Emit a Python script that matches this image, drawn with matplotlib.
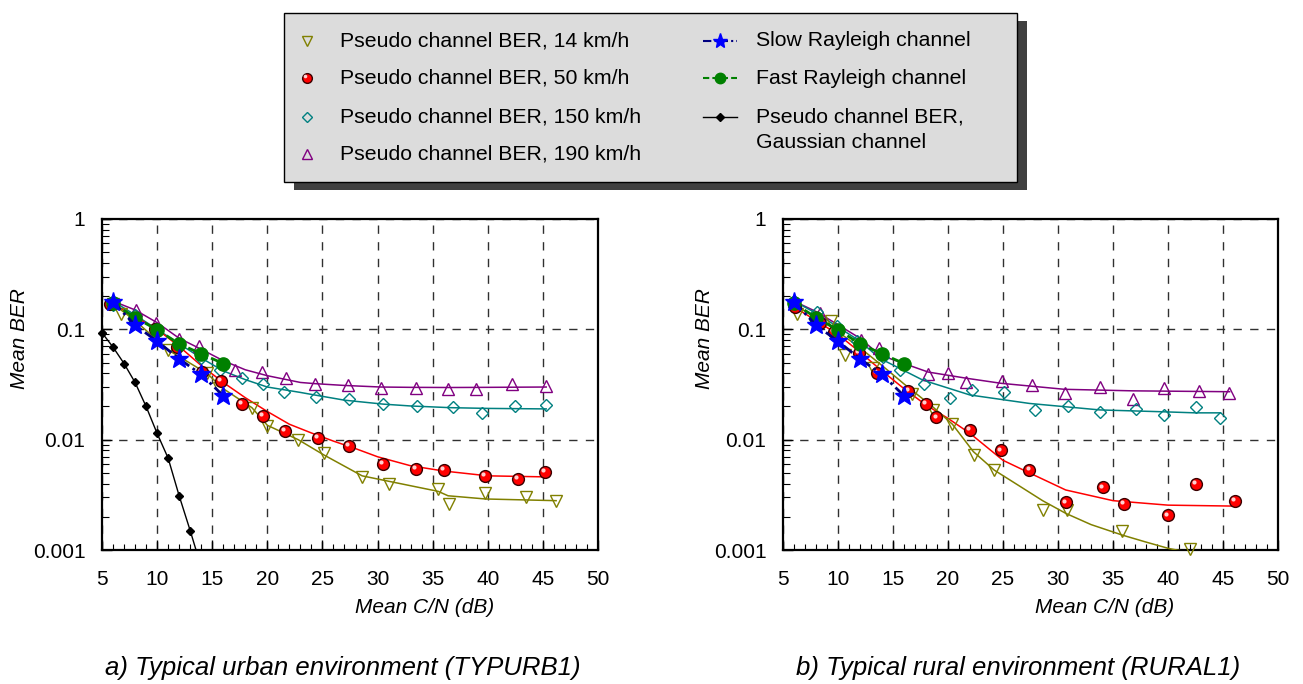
import matplotlib
matplotlib.use("Agg")
import matplotlib.pyplot as plt
from matplotlib.patches import Rectangle
from matplotlib.transforms import offset_copy
from matplotlib.ticker import FixedLocator, NullFormatter, LogLocator

plt.rcParams['font.family'] = ['Liberation Sans', 'DejaVu Sans']

# ---------------- data: common Rayleigh references ----------------
slow_x = [6, 8, 10, 12, 14, 16]
slow_y = [0.178, 0.109, 0.078, 0.054, 0.039, 0.025]
fast_x = [6, 8, 10, 12, 14, 16]
fast_y = [0.172, 0.128, 0.099, 0.074, 0.060, 0.049]

# Gaussian (urban panel only)
gauss_x = [5, 6, 7, 8, 9, 10, 11, 12, 13, 14.2]
gauss_y = [0.093, 0.069, 0.049, 0.033, 0.020, 0.0114, 0.0068, 0.0031, 0.0015, 0.0006]

# ---------------- urban (TYPURB1) ----------------
u14_x = [6, 6.7, 11.0, 14.5, 15.6, 18.6, 20.0, 22.8, 25.1, 28.6, 31.0, 35.5, 36.5, 39.75, 43.5, 46.2]
u14_y = [0.17, 0.137, 0.065, 0.040, 0.0296, 0.0195, 0.0133, 0.0100, 0.0075, 0.0046, 0.0040, 0.0036, 0.0026, 0.0033, 0.0030, 0.0028]
u14_fx = [6, 8, 11, 14.5, 16, 18.6, 20, 22.8, 25.1, 28.6, 31, 35.5, 36.4, 39.8, 46.2]
u14_fy = [0.17, 0.12, 0.065, 0.040, 0.029, 0.0195, 0.0135, 0.010, 0.0073, 0.0047, 0.0042, 0.0034, 0.0031, 0.0029, 0.0028]

u50_x = [5.7, 9.8, 11.8, 14.05, 15.8, 17.7, 19.6, 21.6, 24.6, 27.4, 30.5, 33.5, 36.0, 39.75, 42.7, 45.2]
u50_y = [0.168, 0.100, 0.069, 0.041, 0.034, 0.021, 0.0163, 0.012, 0.0103, 0.0088, 0.0060, 0.0054, 0.0053, 0.0047, 0.0044, 0.0051]
u50_fx = [6, 8, 10, 12, 14, 16, 18, 20, 22, 24, 26, 28, 30, 33, 36, 40, 45.2]
u50_fy = [0.17, 0.13, 0.10, 0.070, 0.047, 0.033, 0.024, 0.018, 0.0138, 0.0115, 0.0097, 0.0083, 0.0070, 0.0058, 0.0052, 0.0047, 0.0046]

u150_x = [6, 8, 12, 14, 15.7, 17.7, 19.6, 21.5, 24.4, 27.4, 30.5, 33.55, 36.85, 39.45, 42.5, 45.26]
u150_y = [0.165, 0.135, 0.072, 0.055, 0.043, 0.036, 0.032, 0.027, 0.0245, 0.0233, 0.021, 0.0203, 0.0199, 0.0173, 0.0204, 0.0207]
u150_fx = [6, 8, 10, 12, 14, 16, 18, 20, 23, 24.3, 27, 30.5, 33, 36.6, 40, 45.3]
u150_fy = [0.18, 0.135, 0.10, 0.074, 0.055, 0.042, 0.035, 0.030, 0.0268, 0.0254, 0.0228, 0.021, 0.0202, 0.0195, 0.0192, 0.019]

u190_x = [6, 8.05, 9.87, 12.0, 13.8, 17.1, 19.5, 21.7, 24.3, 27.35, 30.3, 33.5, 36.4, 38.9, 42.2, 45.3]
u190_y = [0.18, 0.150, 0.115, 0.081, 0.070, 0.043, 0.041, 0.036, 0.032, 0.031, 0.0296, 0.0297, 0.029, 0.0288, 0.0319, 0.0306]
u190_fx = [6, 8, 10, 12, 14, 16, 18, 20, 23, 24.3, 27, 30.3, 33, 36.6, 40, 45.3]
u190_fy = [0.18, 0.15, 0.115, 0.083, 0.066, 0.052, 0.043, 0.038, 0.033, 0.0322, 0.031, 0.030, 0.0298, 0.0297, 0.0298, 0.030]

# ---------------- rural (RURAL1) ----------------
r14_x = [6.27, 9.4, 10.66, 13.2, 16.7, 18.6, 20.4, 22.4, 24.2, 28.6, 30.8, 35.8, 42.0]
r14_y = [0.137, 0.119, 0.058, 0.045, 0.026, 0.0185, 0.0138, 0.0072, 0.0053, 0.0023, 0.0023, 0.0015, 0.00103]
r14_fx = [6, 8, 10, 12, 14, 16, 18.6, 20.4, 22.3, 24.2, 26.5, 28.6, 30.7, 33, 35.9, 38, 40.1, 42]
r14_fy = [0.165, 0.13, 0.095, 0.068, 0.047, 0.032, 0.0199, 0.0138, 0.0078, 0.0053, 0.0038, 0.0028, 0.00215, 0.0017, 0.00136, 0.00118, 0.00103, 0.00095]

r50_x = [6.06, 8.4, 9.6, 11.9, 13.56, 16.4, 18.0, 18.95, 21.97, 24.8, 27.4, 30.7, 34.07, 35.97, 39.96, 42.5, 46.1]
r50_y = [0.161, 0.115, 0.095, 0.061, 0.040, 0.0275, 0.021, 0.0159, 0.0122, 0.0080, 0.0053, 0.0027, 0.0037, 0.0026, 0.00206, 0.0040, 0.0028]
r50_fx = [6, 8, 10, 12, 14, 16, 18, 20, 22, 25, 27.4, 30.7, 35, 40, 46]
r50_fy = [0.16, 0.12, 0.09, 0.062, 0.042, 0.029, 0.0206, 0.0156, 0.0114, 0.0065, 0.0050, 0.0035, 0.0028, 0.00255, 0.0025]

r150_x = [6, 8.05, 9.87, 11.7, 14.1, 15.6, 17.8, 20.2, 22.2, 25.1, 27.9, 30.9, 33.85, 37.1, 39.66, 42.5, 44.75]
r150_y = [0.18, 0.144, 0.107, 0.079, 0.056, 0.043, 0.032, 0.0237, 0.028, 0.027, 0.0185, 0.0202, 0.018, 0.019, 0.0167, 0.0199, 0.0156]
r150_fx = [6, 8, 10, 12, 13.8, 17.7, 22, 27.4, 33.8, 39.5, 42.5, 44.75]
r150_fy = [0.18, 0.14, 0.105, 0.078, 0.0546, 0.0347, 0.0254, 0.0213, 0.0186, 0.0179, 0.0175, 0.0175]

r190_x = [6, 8.4, 12.05, 13.74, 18.2, 20.0, 21.6, 24.9, 27.65, 30.6, 33.8, 36.85, 39.66, 42.85, 45.56]
r190_y = [0.18, 0.140, 0.080, 0.068, 0.039, 0.040, 0.033, 0.034, 0.031, 0.0263, 0.0298, 0.0232, 0.0295, 0.0276, 0.0266]
r190_fx = [6, 8, 10, 12, 13.8, 18.2, 21.7, 24.85, 30.6, 36.8, 45.6]
r190_fy = [0.18, 0.145, 0.11, 0.083, 0.0585, 0.041, 0.036, 0.0324, 0.0286, 0.0277, 0.0272]

x_ticks = [5, 10, 15, 20, 25, 30, 35, 40, 45, 50]
y_ticks = [0.001, 0.01, 0.1, 1]
y_ticklabels = ['0.001', '0.01', '0.1', '1']

OLIVE = '#808000'
RED = '#ff0000'
TEAL = '#008080'
PURPLE = '#800080'
BLUE = '#0000ff'
NAVY = '#000080'
GREEN = '#008000'

FS = 15

fig = plt.figure(figsize=(13.03, 6.84), dpi=100)
fig.patch.set_facecolor('white')

ax_u = fig.add_axes([102 / 1303, 134 / 684, 496 / 1303, 331 / 684])
ax_r = fig.add_axes([783 / 1303, 134 / 684, 495 / 1303, 331 / 684])


def red_balls(ax, xs, ys):
    ax.plot(xs, ys, linestyle='none', marker='o', ms=8.5, mfc=RED, mec='#3a0000', mew=1.0, zorder=6, clip_on=False)
    tr = offset_copy(ax.transData, fig=fig, x=-1.3, y=1.3, units='points')
    ax.plot(xs, ys, linestyle='none', marker='o', ms=3.0, mfc='#ffd0d0', mec='none', transform=tr, zorder=7, clip_on=False)


def panel(ax, d, gauss):
    (x14, y14, fx14, fy14, x50, y50, fx50, fy50, x150, y150, fx150, fy150, x190, y190, fx190, fy190) = d
    # fitted curves
    ax.plot(fx190, fy190, color=PURPLE, lw=1.1, zorder=3)
    ax.plot(fx150, fy150, color=TEAL, lw=1.1, zorder=3)
    ax.plot(fx50, fy50, color=RED, lw=1.1, zorder=3)
    ax.plot(fx14, fy14, color=OLIVE, lw=1.1, zorder=3)
    # measured points
    ax.plot(x190, y190, linestyle='none', marker='^', ms=9, mfc='none', mec=PURPLE, mew=1.0, zorder=5)
    ax.plot(x150, y150, linestyle='none', marker='D', ms=6.3, mfc='none', mec=TEAL, mew=1.0, zorder=5)
    ax.plot(x14, y14, linestyle='none', marker='v', ms=9, mfc='none', mec=OLIVE, mew=1.0, zorder=5, clip_on=False)
    red_balls(ax, x50, y50)
    # Rayleigh references
    ax.plot(fast_x, fast_y, color=GREEN, lw=2, linestyle=(0, (3, 1.5)), marker='o', ms=9.5, mfc=GREEN, mec=GREEN, zorder=8)
    ax.plot(slow_x, slow_y, color=NAVY, lw=2, linestyle=(0, (4, 1.5, 1, 1.5)), marker='*', ms=14, mfc=BLUE, mec=BLUE, zorder=9)
    if gauss:
        ax.plot(gauss_x, gauss_y, color='black', lw=1.0, marker='D', ms=4.5, mfc='black', mec='black', zorder=4, clip_on=True)
        ax.plot(gauss_x[:1], gauss_y[:1], color='black', marker='D', ms=4.5, linestyle='none', zorder=4, clip_on=False)

    ax.set_yscale('log')
    ax.set_xlim(5, 50)
    ax.set_ylim(0.001, 1)
    ax.xaxis.set_major_locator(FixedLocator(x_ticks))
    ax.xaxis.set_minor_locator(FixedLocator(list(range(5, 51))))
    ax.set_xticklabels([str(v) for v in x_ticks])
    ax.yaxis.set_major_locator(FixedLocator(y_ticks))
    ax.set_yticklabels(y_ticklabels)
    ax.yaxis.set_minor_locator(LogLocator(base=10, subs=[2, 3, 4, 5, 6, 7, 8, 9]))
    ax.yaxis.set_minor_formatter(NullFormatter())
    ax.tick_params(which='both', direction='in', top=False, right=False, labelsize=FS, colors='black')
    ax.tick_params(axis='x', which='major', length=7, width=1, pad=14.5)
    ax.tick_params(axis='x', which='minor', length=4, width=0.8)
    ax.tick_params(axis='y', which='major', length=7, width=1, pad=12)
    ax.tick_params(axis='y', which='minor', length=5, width=0.8)
    for s in ax.spines.values():
        s.set_linewidth(1.6)
        s.set_color('black')
    ax.grid(True, which='major', color='#303030', linestyle=(0, (6, 6)), linewidth=1.0)
    ax.set_axisbelow(True)
    ax.set_xlabel('Mean C/N (dB)', fontsize=FS, style='italic')
    ax.xaxis.set_label_coords(0.65, -0.145)
    ax.set_ylabel('Mean BER', fontsize=FS, style='italic')


panel(ax_u, (u14_x, u14_y, u14_fx, u14_fy, u50_x, u50_y, u50_fx, u50_fy,
             u150_x, u150_y, u150_fx, u150_fy, u190_x, u190_y, u190_fx, u190_fy), True)
panel(ax_r, (r14_x, r14_y, r14_fx, r14_fy, r50_x, r50_y, r50_fx, r50_fy,
             r150_x, r150_y, r150_fx, r150_fy, r190_x, r190_y, r190_fx, r190_fy), False)
ax_u.yaxis.set_label_coords(-0.147, 0.64)
ax_r.yaxis.set_label_coords(-0.14, 0.64)

fig.text(105 / 1303, 1 - 668 / 684, 'a) Typical urban environment (TYPURB1)', fontsize=18.5, style='italic',
         ha='left', va='center')
fig.text(796 / 1303, 1 - 668 / 684, 'b) Typical rural environment (RURAL1)', fontsize=18.5, style='italic',
         ha='left', va='center')

# ---------------- legend (drawn in pixel coordinates) ----------------
lax = fig.add_axes([0, 0, 1, 1], zorder=10)
lax.set_xlim(0, 1303)
lax.set_ylim(684, 0)
lax.axis('off')
lax.add_patch(Rectangle((294, 21), 733, 169, facecolor='#404040', edgecolor='none'))
lax.add_patch(Rectangle((284, 13), 733, 169, facecolor='#dcdcdc', edgecolor='black', linewidth=1.0))

LFS = 15.3
rows = [41, 78, 117, 154]
col1 = [('v', OLIVE, 'Pseudo channel BER, 14 km/h'),
        ('o', RED, 'Pseudo channel BER, 50 km/h'),
        ('D', TEAL, 'Pseudo channel BER, 150 km/h'),
        ('^', PURPLE, 'Pseudo channel BER, 190 km/h')]
for (m, c, lab), yy in zip(col1, rows):
    if m == 'o':
        lax.plot([307], [yy], marker='o', ms=7, mfc=RED, mec='#3a0000', mew=1.0, linestyle='none')
        tr = offset_copy(lax.transData, fig=fig, x=-1.1, y=1.1, units='points')
        lax.plot([307], [yy], marker='o', ms=2.6, mfc='#ffd0d0', mec='none', linestyle='none', transform=tr)
    else:
        lax.plot([307], [yy], marker=m, ms=7 if m != 'D' else 5, mfc='none', mec=c, mew=1.0, linestyle='none')
    lax.text(340, yy, lab, fontsize=LFS, ha='left', va='center')

lax.plot([703, 737], [rows[0], rows[0]], color=NAVY, lw=1.5, linestyle=(0, (4, 1.5, 1, 1.5)))
lax.plot([720], [rows[0]], marker='*', ms=11, mfc=BLUE, mec=BLUE, linestyle='none')
lax.text(756, rows[0], 'Slow Rayleigh channel', fontsize=LFS, ha='left', va='center')
lax.plot([703, 737], [rows[1], rows[1]], color=GREEN, lw=1.5, linestyle=(0, (3, 1.5)))
lax.plot([720], [rows[1]], marker='o', ms=7.5, mfc=GREEN, mec=GREEN, linestyle='none')
lax.text(756, rows[1], 'Fast Rayleigh channel', fontsize=LFS, ha='left', va='center')
lax.plot([703, 737], [rows[2], rows[2]], color='black', lw=1.0)
lax.plot([720], [rows[2]], marker='D', ms=4, mfc='black', mec='black', linestyle='none')
lax.text(756, rows[2], 'Pseudo channel BER,', fontsize=LFS, ha='left', va='center')
lax.text(756, 143, 'Gaussian channel', fontsize=LFS, ha='left', va='center')

fig.savefig('out.png', dpi=100)
